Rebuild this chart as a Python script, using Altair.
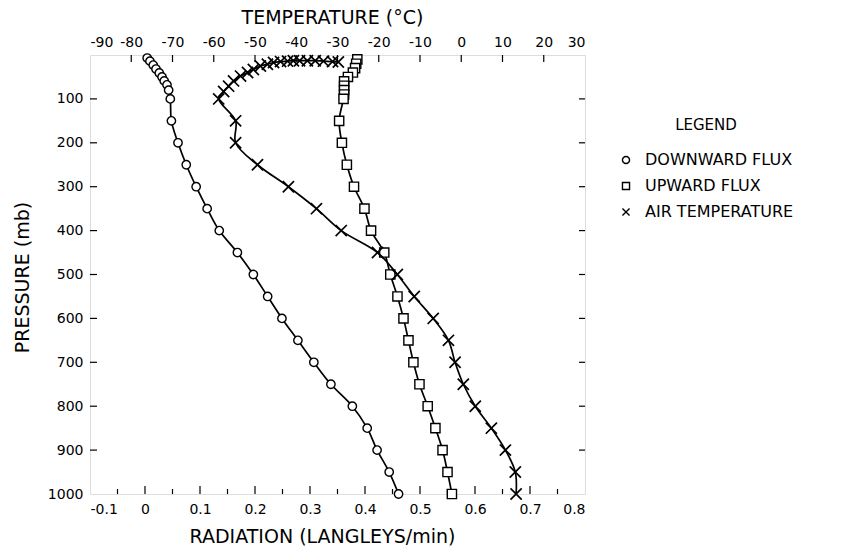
import altair as alt
import pandas as pd

# ---------------- data ----------------
SERIES = ["DOWNWARD FLUX", "UPWARD FLUX", "AIR TEMPERATURE"]

down_p = [7, 14, 23, 32, 41, 50, 59, 68, 80, 100,
          150, 200, 250, 300, 350, 400, 450, 500, 550, 600,
          650, 700, 750, 800, 850, 900, 950, 1000]
down_v = [0.004, 0.009, 0.015, 0.020, 0.026, 0.031, 0.035, 0.040, 0.043, 0.046,
          0.048, 0.060, 0.075, 0.093, 0.113, 0.135, 0.168, 0.197, 0.223, 0.249,
          0.278, 0.307, 0.338, 0.377, 0.404, 0.422, 0.444, 0.461]

up_p = [10, 20, 30, 40, 50, 60, 70, 80, 90, 100,
        150, 200, 250, 300, 350, 400, 450, 500, 550, 600,
        650, 700, 750, 800, 850, 900, 950, 1000]
up_v = [0.386, 0.384, 0.382, 0.378, 0.369, 0.362, 0.362, 0.362, 0.362, 0.361,
        0.353, 0.358, 0.367, 0.380, 0.399, 0.411, 0.435, 0.446, 0.459, 0.470,
        0.479, 0.488, 0.499, 0.514, 0.528, 0.541, 0.550, 0.558]

temp_p = [16, 15, 14, 13, 13, 13, 13, 14, 15, 17, 21, 25, 33, 40, 48, 59, 71, 83, 100,
          150, 200, 250, 300, 350, 400, 450, 500, 550, 600,
          650, 700, 750, 800, 850, 900, 950, 1000]
temp_t = [-29.8, -31.2, -33.4, -35.4, -37.3, -39.2, -40.7, -42.1, -43.8, -45.5,
          -47.0, -48.7, -50.4, -51.8, -53.5, -55.2, -56.4, -57.6, -58.8,
          -54.7, -54.7, -49.4, -41.9, -35.1, -29.1, -20.3, -15.5, -11.4, -6.8,
          -3.1, -1.5, 0.5, 3.4, 7.3, 10.7, 13.1, 13.3]

rad_ticks = [-0.1, 0.0, 0.1, 0.2, 0.3, 0.4, 0.5, 0.6, 0.7, 0.8]
rad_minor = [-0.05, 0.05, 0.15, 0.25, 0.35, 0.45, 0.55, 0.65, 0.75]
temp_ticks = [-90, -80, -70, -60, -50, -40, -30, -20, -10, 0, 10, 20, 30]
pres_ticks = [100, 200, 300, 400, 500, 600, 700, 800, 900, 1000]

# ---------------- layout ----------------
W, H = 495, 439
FONT = "DejaVu Sans"
XPATH = "M-1,-1L1,1M-1,1L1,-1"

down = pd.DataFrame({"p": down_p, "v": down_v, "series": SERIES[0]})
down["i"] = range(len(down))
up = pd.DataFrame({"p": up_p, "v": up_v, "series": SERIES[1]})
up["i"] = range(len(up))
temp = pd.DataFrame({"p": temp_p, "t": temp_t, "series": SERIES[2]})
temp["i"] = range(len(temp))

y_scale = alt.Scale(domain=[0, 1000], reverse=True, nice=False, zero=False)
y_axis = alt.Axis(values=pres_ticks, title="PRESSURE (mb)", grid=False, ticks=False,
                  domain=False, labelFontSize=14, labelPadding=7, labelFont=FONT,
                  titleFont=FONT, titleFontSize=19, titleFontWeight="normal",
                  titleX=-68, titleY=222, titleBaseline="middle", titleAngle=-90,
                  labelColor="black", titleColor="black", format="d")

x_scale = alt.Scale(domain=[-0.1, 0.8], nice=False, zero=False)
x_axis = alt.Axis(orient="bottom", values=rad_ticks, title="RADIATION (LANGLEYS/min)",
                  grid=False, ticks=False, domain=False, labelFontSize=14, labelPadding=8,
                  labelFont=FONT, titleFont=FONT, titleFontSize=19, titleFontWeight="normal",
                  titleX=232, titleY=42, titleBaseline="middle",
                  labelColor="black", titleColor="black",
                  labelExpr="(datum.value < 0 ? '-' : '') + format(abs(datum.value), datum.value == 0 ? 'd' : '.1f')")

t_scale = alt.Scale(domain=[-90, 30], nice=False, zero=False)
t_axis = alt.Axis(orient="top", values=temp_ticks, title="TEMPERATURE (°C)",
                  grid=False, ticks=False, domain=False, labelFontSize=14, labelPadding=6,
                  labelFont=FONT, titleFont=FONT, titleFontSize=19, titleFontWeight="normal",
                  titleX=242, titleY=-38, titleBaseline="middle",
                  labelColor="black", titleColor="black",
                  labelExpr="(datum.value < 0 ? '-' : '') + format(abs(datum.value), 'd')")

shape_scale = alt.Scale(domain=SERIES, range=["circle", "square", XPATH])
color_scale = alt.Scale(domain=SERIES, range=["black", "black", "black"])
legend = alt.Legend(title="LEGEND", orient="none", legendX=528, legendY=63,
                    titleFont=FONT, titleFontSize=15, titleFontWeight="normal",
                    titleAnchor="middle", titleAlign="center", titlePadding=19,
                    labelFont=FONT, labelFontSize=16, labelColor="black", titleColor="black",
                    symbolSize=50, symbolStrokeColor="black", symbolFillColor="white",
                    symbolOpacity=1, symbolStrokeWidth=1.4, labelOffset=11, rowPadding=10)


def line(df, field, scale, axis):
    return alt.Chart(df).mark_line(color="black", strokeWidth=1.7,
                                   interpolate="catmull-rom").encode(
        x=alt.X(f"{field}:Q", scale=scale, axis=axis),
        y=alt.Y("p:Q", scale=y_scale, axis=y_axis),
        order="i:Q",
    )


def points(df, field, scale, axis, size, sw=1.4):
    return alt.Chart(df).mark_point(fill="white", strokeWidth=sw,
                                    opacity=1, fillOpacity=1, size=size).encode(
        x=alt.X(f"{field}:Q", scale=scale, axis=axis),
        y=alt.Y("p:Q", scale=y_scale, axis=y_axis),
        shape=alt.Shape("series:N", scale=shape_scale, legend=legend),
        color=alt.Color("series:N", scale=color_scale, legend=legend),
    )


# ---- radiation layer ----
bmaj = pd.DataFrame({"v": rad_ticks[1:-1]})
bmin = pd.DataFrame({"v": rad_minor})
btick_maj = alt.Chart(bmaj).mark_rule(color="black", strokeWidth=1.2).encode(
    x=alt.X("v:Q", scale=x_scale, axis=x_axis), y=alt.value(H), y2=alt.value(H - 8))
btick_min = alt.Chart(bmin).mark_rule(color="black", strokeWidth=1.2).encode(
    x=alt.X("v:Q", scale=x_scale, axis=x_axis), y=alt.value(H), y2=alt.value(H - 5))

pt = pd.DataFrame({"p": pres_ticks[:-1]})
ltick = alt.Chart(pt).mark_rule(color="black", strokeWidth=1.2).encode(
    y=alt.Y("p:Q", scale=y_scale, axis=y_axis), x=alt.value(0), x2=alt.value(7))
rtick = alt.Chart(pt).mark_rule(color="black", strokeWidth=1.2).encode(
    y=alt.Y("p:Q", scale=y_scale, axis=y_axis), x=alt.value(W - 6), x2=alt.value(W))

rad_layer = alt.layer(
    line(down, "v", x_scale, x_axis), line(up, "v", x_scale, x_axis),
    btick_maj, btick_min, ltick, rtick,
    points(down, "v", x_scale, x_axis, 70), points(up, "v", x_scale, x_axis, 85),
)

# ---- temperature layer ----
tt = pd.DataFrame({"t": temp_ticks[1:-1]})
ttick = alt.Chart(tt).mark_rule(color="black", strokeWidth=1.2).encode(
    x=alt.X("t:Q", scale=t_scale, axis=t_axis), y=alt.value(0), y2=alt.value(7))

temp_layer = alt.layer(
    line(temp, "t", t_scale, t_axis), ttick,
    points(temp, "t", t_scale, t_axis, 125, 1.7),
)

chart = alt.layer(rad_layer, temp_layer).resolve_scale(x="independent").properties(
    width=W, height=H,
    padding={"left": 90, "top": 55, "right": 841 - 90 - W, "bottom": 548 - 55 - H},
    autosize=alt.AutoSizeParams(type="none"),
).configure_view(stroke="black", strokeWidth=1.5).configure(background="white")

chart.save("out.html", embed_options={"renderer": "svg", "actions": False})
